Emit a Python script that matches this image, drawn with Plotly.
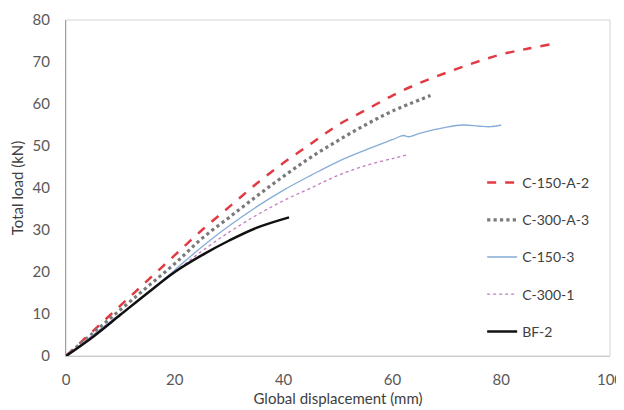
import plotly.graph_objects as go

# C-150-A-2 (red dashed)
x_c150a2 = [0, 5, 10, 15, 20, 25, 30, 35, 40, 45, 50, 55, 60, 65, 70, 75, 80, 85, 89]
y_c150a2 = [0, 6, 12, 18, 24, 30, 35.5, 41, 46, 50.5, 55, 58.5, 62, 65, 67.5, 69.8, 71.8, 73.2, 74.2]
# C-300-A-3 (grey dotted)
x_c300a3 = [0, 5, 10, 15, 20, 25, 30, 35, 40, 45, 50, 55, 60, 67]
y_c300a3 = [0, 5.5, 11, 16.5, 22, 28, 33, 38, 42.8, 47.3, 51.3, 55, 58.3, 62]
# C-150-3 (light blue solid)
x_c1503 = [0, 5, 10, 15, 20, 25, 30, 35, 40, 45, 50, 55, 60, 62, 63, 65, 70, 73, 76, 78, 80]
y_c1503 = [0, 5, 10, 15, 20.5, 26, 31, 35.5, 39.5, 43, 46.3, 49, 51.5, 52.5, 52.2, 53, 54.5, 55, 54.7, 54.6, 55]
# C-300-1 (pink dotted)
x_c3001 = [0, 5, 10, 15, 20, 25, 30, 35, 40, 45, 50, 55, 60, 63]
y_c3001 = [0, 5, 10, 15, 20, 25, 29.5, 33.5, 37, 40, 43, 45.3, 47, 48]
# BF-2 (black solid)
x_bf2 = [0, 5, 10, 15, 20, 25, 30, 35, 41]
y_bf2 = [0, 4.6, 9.8, 15, 20, 24, 27.5, 30.5, 33]

x_ticks = [0, 20, 40, 60, 80, 100]
y_ticks = [0, 10, 20, 30, 40, 50, 60, 70, 80]

fig = go.Figure()
series = [
    ("C-150-A-2", x_c150a2, y_c150a2, dict(color="#e23a42", width=2.5, dash="dash")),
    ("C-300-A-3", x_c300a3, y_c300a3, dict(color="#7a7a7a", width=3.2, dash="dot")),
    ("C-150-3", x_c1503, y_c1503, dict(color="#86acd8", width=1.3)),
    ("C-300-1", x_c3001, y_c3001, dict(color="#c07cc0", width=1.3, dash="dot")),
    ("BF-2", x_bf2, y_bf2, dict(color="#111111", width=2.5)),
]
for name, xs, ys, line in series:
    fig.add_trace(go.Scatter(x=xs, y=ys, name=name, mode="lines", line=line,
                             line_shape="spline", legendgroup=name))

fam = "Lato, Open Sans, sans-serif"
tick_font = dict(family=fam, size=15, color="#595959")
title_font = dict(family=fam, size=15, color="#404040")
fig.update_layout(
    width=616, height=402,
    margin=dict(l=58, r=14, t=12, b=54, autoexpand=False),
    paper_bgcolor="white", plot_bgcolor="white",
    font=tick_font,
    showlegend=True,
    legend=dict(x=0.765, y=0.5625, xanchor="left", yanchor="top",
                bgcolor="rgba(0,0,0,0)", tracegroupgap=16, itemwidth=30,
                font=dict(family=fam, size=14, color="#404040")),
    xaxis=dict(range=[0, 100], tickvals=x_ticks, showgrid=False, zeroline=False,
               showline=True, linecolor="#c8c8c8", linewidth=1, ticks="",
               automargin=False, ticklabelstandoff=10, tickfont=tick_font,
               title=dict(text="Global displacement (mm)", standoff=6, font=title_font)),
    yaxis=dict(range=[0, 80], tickvals=y_ticks, showgrid=False, zeroline=False,
               showline=True, linecolor="#a0a0a0", linewidth=1, ticks="",
               automargin=False, ticklabelstandoff=12, tickfont=tick_font,
               title=dict(text="Total load (kN)", standoff=6, font=title_font)),
    shapes=[dict(type="rect", xref="paper", yref="paper", x0=0, y0=0, x1=1, y1=1,
                 line=dict(color="#d4d4d4", width=1), layer="below")],
)
fig.write_html("out.html")
